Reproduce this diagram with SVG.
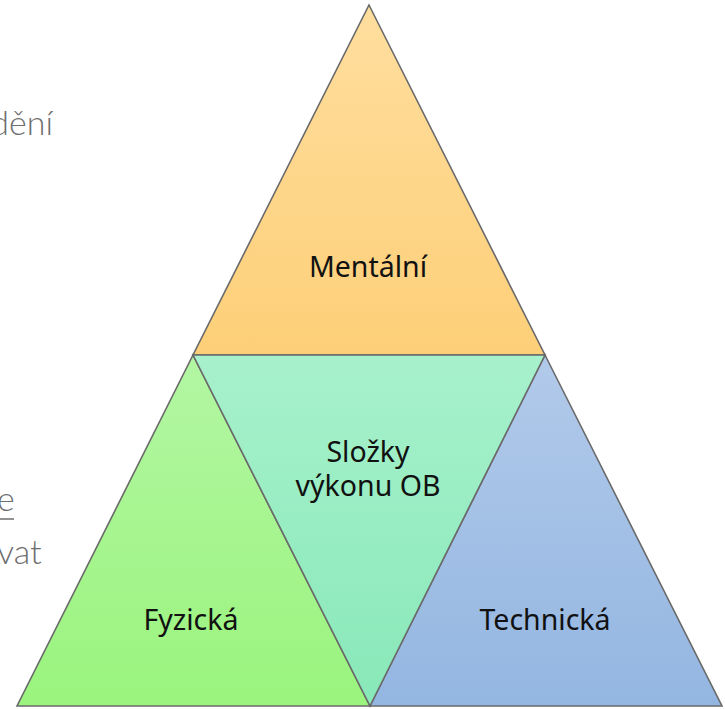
<svg xmlns="http://www.w3.org/2000/svg" width="725" height="709" viewBox="0 0 725 709">
<style>
.tri{stroke:#6a6a6a;stroke-width:1.6;stroke-linejoin:miter}
.lbl{font-family:"Noto Sans","Open Sans","Liberation Sans",sans-serif;font-size:28.5px;fill:#111;text-anchor:middle}
.bg{font-family:"Lato","Open Sans","Liberation Sans",sans-serif;font-size:34px;fill:#6e6e6e;font-weight:300}
</style>
<defs>
<linearGradient id="gO" x1="0" y1="0" x2="0" y2="1"><stop offset="0" stop-color="#FFDE9E"/><stop offset="1" stop-color="#FDCF78"/></linearGradient>
<linearGradient id="gT" x1="0" y1="0" x2="0" y2="1"><stop offset="0" stop-color="#A7F1CC"/><stop offset="1" stop-color="#88E8B8"/></linearGradient>
<linearGradient id="gG" x1="0" y1="0" x2="0" y2="1"><stop offset="0" stop-color="#B3F6A3"/><stop offset="1" stop-color="#9AF47D"/></linearGradient>
<linearGradient id="gB" x1="0" y1="0" x2="0" y2="1"><stop offset="0" stop-color="#B2CAEA"/><stop offset="1" stop-color="#93B6E1"/></linearGradient>
</defs>
<rect width="725" height="709" fill="#fff"/>
<g id="background-text">
<text class="bg" x="53" y="135" text-anchor="end">dění</text>
<text class="bg" x="-3" y="511">e</text>
<line x1="0" y1="519" x2="14" y2="519" stroke="#6e6e6e" stroke-width="1.5"/>
<text class="bg" x="-3" y="564">vat</text>
</g>
<g id="node-mentalni">
<polygon class="tri" fill="url(#gO)" points="369,5 545,355 193,355"/>
<text class="lbl" x="368" y="277">Mentální</text>
</g>
<g id="node-fyzicka">
<polygon class="tri" fill="url(#gG)" points="193,355 370,706 17,706"/>
<text class="lbl" x="191" y="630">Fyzická</text>
</g>
<g id="node-technicka">
<polygon class="tri" fill="url(#gB)" points="545,355 722,706 370,706"/>
<text class="lbl" x="545" y="630">Technická</text>
</g>
<g id="node-slozky">
<polygon class="tri" fill="url(#gT)" points="193,355 545,355 370,706"/>
<text class="lbl" x="368" y="462">Složky</text>
<text class="lbl" x="368" y="496">výkonu OB</text>
</g>
</svg>
